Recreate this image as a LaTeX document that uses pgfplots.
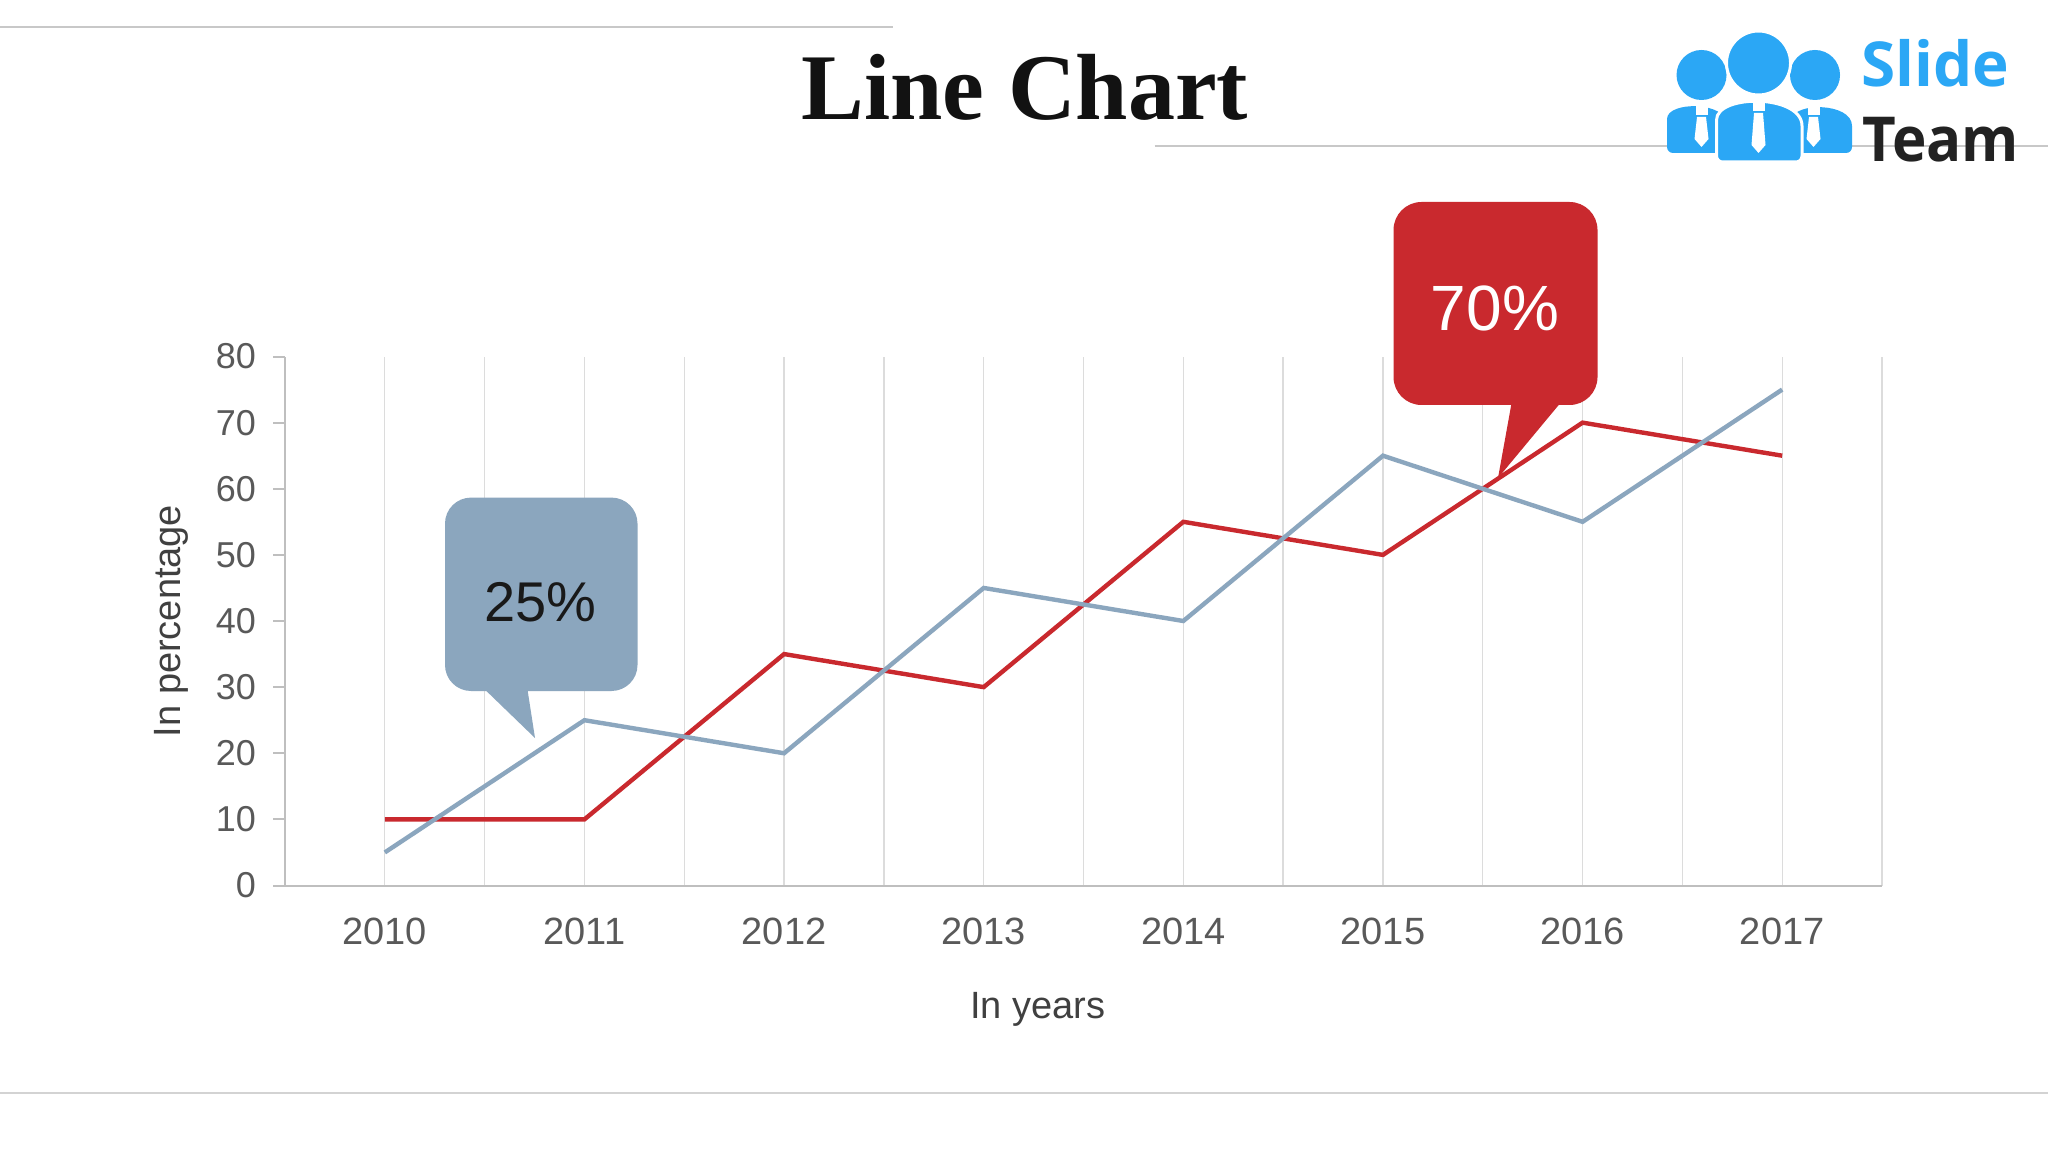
\documentclass[border=0pt]{standalone}
\usepackage{pgfplots}
\pgfplotsset{compat=1.18}
\usepackage{fontspec}
\setmainfont{Liberation Sans}
\newfontfamily\titlefont{Liberation Serif}
\newfontfamily\logofont{Open Sans}
\definecolor{linered}{HTML}{C9292E}
\definecolor{lineblue}{HTML}{8BA6BE}
\definecolor{gridgray}{HTML}{DCDCDC}
\definecolor{axisgray}{HTML}{BFBFBF}
\definecolor{ticklab}{HTML}{595959}
\definecolor{labgray}{HTML}{404040}
\definecolor{logoblue}{HTML}{2BA7F5}
\definecolor{logodark}{HTML}{222222}
\definecolor{rulegray}{HTML}{C8C8C8}
\begin{document}
\begin{tikzpicture}
\useasboundingbox (0,0) rectangle (1024pt,576pt);
\fill[white] (0,0) rectangle (1024pt,576pt);
\begin{scope}[x=0.5pt,y=-0.5pt,shift={(0pt,576pt)}]
  \draw[rulegray, line width=1pt] (0,27.4) -- (893,27.4);
  \draw[rulegray, line width=1pt] (1154.5,146.3) -- (2048,146.3);
  \draw[rulegray!80, line width=1pt] (0,1093) -- (2048,1093);
  \node[anchor=base, inner sep=0pt, text=black!93] at (1025,120) {\titlefont\fontsize{47}{54}\selectfont\bfseries Line Chart};
  % logo
  \fill[logoblue] (1667,153) [rounded corners=3pt]-- (1667,125) [sharp corners].. controls (1667,101) and (1727,101) .. (1727,125) [rounded corners=3pt]-- (1727,153) -- cycle;
  \fill[logoblue] (1792,153) [rounded corners=3pt]-- (1792,126) [sharp corners].. controls (1792,102) and (1852,102) .. (1852,126) [rounded corners=3pt]-- (1852,153) -- cycle;
  \filldraw[logoblue, draw=white, line width=1.5pt] (1716.5,162) [rounded corners=3pt]-- (1716.5,126) [sharp corners].. controls (1716.5,94) and (1802,94) .. (1802,126) [rounded corners=3pt]-- (1802,162) -- cycle;
  \fill[logoblue] (1701.5,75) circle[radius=25];
  \fill[logoblue] (1815,75) circle[radius=25];
  \filldraw[logoblue, draw=white, line width=1.5pt] (1758.5,63) circle[radius=32];
  \foreach \tx/\ty/\tb in {1701.5/105/147, 1758.5/101/153, 1813.5/105/147}{
    \fill[white] (\tx-6,\ty) rectangle (\tx+6,\ty+10);
    \fill[white] (\tx-4.5,\ty+12) -- (\tx+4.5,\ty+12) -- (\tx+7,\tb-8) -- (\tx,\tb) -- (\tx-7,\tb-8) -- cycle;
  }
  \node[anchor=base west, inner sep=0pt, text=logoblue] at (1861,87) {\logofont\bfseries\fontsize{31}{36}\selectfont Slide};
  \node[anchor=base west, inner sep=0pt, text=logodark] at (1862,162) {\scalebox{0.94}[1]{\logofont\bfseries\fontsize{31}{36}\selectfont Team}};
\end{scope}
\begin{axis}[
  at={(142.5pt,133.25pt)}, anchor=south west,
  width=798.5pt, height=264.5pt, scale only axis,
  xmin=-0.5, xmax=7.5, ymin=0, ymax=80,
  xtick={0,1,2,3,4,5,6,7},
  xticklabels={2010,2011,2012,2013,2014,2015,2016,2017},
  minor xtick={-0.5,0.5,1.5,2.5,3.5,4.5,5.5,6.5,7.5},
  ytick={0,10,20,30,40,50,60,70,80},
  xmajorgrids, xminorgrids,
  major grid style={draw=gridgray, line width=0.65pt},
  minor grid style={draw=gridgray, line width=0.65pt},
  axis x line*=bottom, axis y line*=left,
  axis line style={draw=axisgray, line width=1pt},
  x tick style={draw=none},
  y tick style={draw=axisgray, line width=1pt},
  tick align=outside, major tick length=6pt,
  tick label style={font=\fontsize{19}{22}\selectfont, text=ticklab},
  xticklabel style={yshift=-6.8pt},
  yticklabel style={xshift=-5pt, font=\fontsize{18}{22}\selectfont},
  /pgf/number format/assume math mode=true,
  xlabel={In years}, ylabel={In percentage},
  label style={font=\fontsize{19}{22}\selectfont, text=labgray},
  xlabel style={at={(axis description cs:0.4715,-0.235)}, anchor=center},
  ylabel style={at={(axis description cs:-0.0714,0.5)}, anchor=center},
]
\addplot[color=linered, line width=2.2pt] coordinates {(0,10)(1,10)(2,35)(3,30)(4,55)(5,50)(6,70)(7,65)};
\addplot[color=lineblue, line width=2.2pt] coordinates {(0,5)(1,25)(2,20)(3,45)(4,40)(5,65)(6,55)(7,75)};
\end{axis}
\begin{scope}[x=0.5pt,y=-0.5pt,shift={(0pt,576pt)}]
  \fill[lineblue] (475,680) -- (535,738) -- (526,680) -- cycle;
  \fill[lineblue, rounded corners=13pt] (445,497.6) rectangle (637.5,691);
  \node[text=black!90] at (540.7,602) {\fontsize{28}{32}\selectfont 25\%};
  \fill[linered] (1513,395) -- (1498,478) -- (1567,395) -- cycle;
  \fill[linered, rounded corners=14pt] (1393.5,202) rectangle (1597.5,405);
  \node[text=white] at (1495,308) {\fontsize{32}{38}\selectfont 70\%};
\end{scope}
\end{tikzpicture}
\end{document}
